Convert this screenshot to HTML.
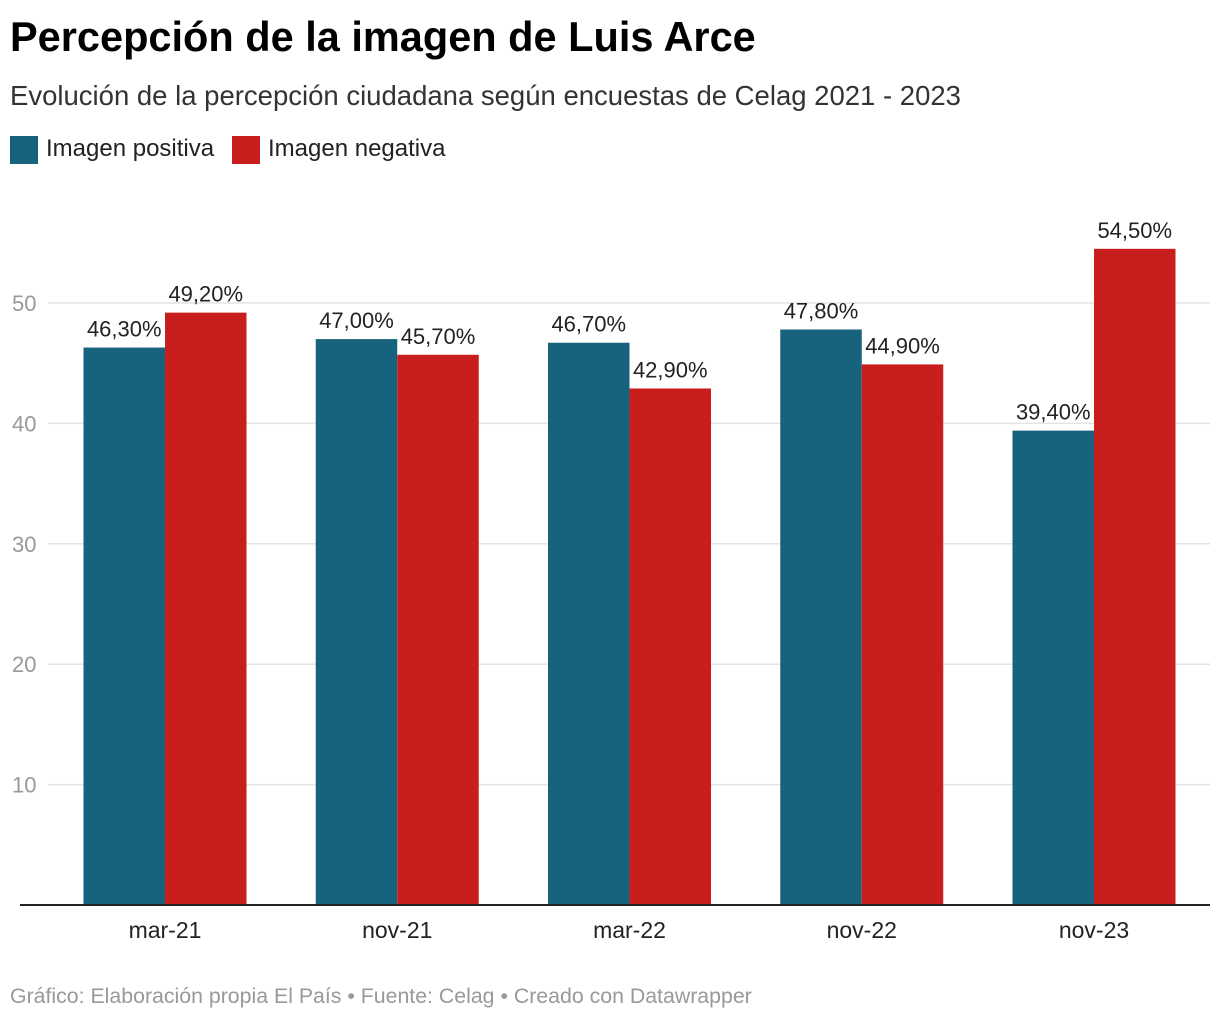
<!DOCTYPE html>
<html><head><meta charset="utf-8"><style>
body{margin:0;background:#fff;font-family:"Liberation Sans",Arial,sans-serif;}
#wrap{position:relative;width:1220px;height:1020px;overflow:hidden}
.t{position:absolute;white-space:nowrap}
</style></head><body><div id="wrap">
<div class="t" style="left:10px;top:13px;font-size:41.5px;font-weight:bold;color:#000">Percepción de la imagen de Luis Arce</div>
<div class="t" style="left:10px;top:80px;font-size:27.5px;color:#333">Evolución de la percepción ciudadana según encuestas de Celag 2021 - 2023</div>
<div class="t" style="left:10px;top:135px;font-size:24px;color:#222"><span style="display:inline-block;width:28px;height:28px;background:#17627c;vertical-align:middle;margin-right:8px"></span>Imagen positiva</div>
<div class="t" style="left:232px;top:135px;font-size:24px;color:#222"><span style="display:inline-block;width:28px;height:28px;background:#c91e1e;vertical-align:middle;margin-right:8px"></span>Imagen negativa</div>
<svg id="chart" width="1220" height="1020" style="position:absolute;left:0;top:0"></svg>
<div class="t" style="left:10px;top:984px;font-size:21.3px;color:#999">Gráfico: Elaboración propia El País • Fuente: Celag • Creado con Datawrapper</div>
</div>
<script>
const categories=["mar-21","nov-21","mar-22","nov-22","nov-23"];
const positive=[46.3,47.0,46.7,47.8,39.4];
const negative=[49.2,45.7,42.9,44.9,54.5];
const yTicks=[10,20,30,40,50];
const NS="http://www.w3.org/2000/svg";
const svg=document.getElementById('chart');
const y=v=>905-12.04*v;
const cx=i=>165+232.25*i;
const bw=81.5;
function mk(t,a){const e=document.createElementNS(NS,t);for(const k in a)e.setAttribute(k,a[k]);svg.appendChild(e);return e;}
yTicks.forEach(v=>{
 const l=mk('line',{x1:48,x2:1210,y1:y(v),y2:y(v),stroke:'#e3e3e3','stroke-width':1.5});
 
 
 const t=mk('text',{x:12,y:y(v)+8,'font-size':22,fill:'#999','font-family':'Liberation Sans, Arial, sans-serif'});
 t.textContent=v;
 
 
});
const fmt=v=>v.toFixed(2).replace('.',',')+'%';
categories.forEach((c,i)=>{
 [[positive[i],'#17627c',-bw,'bar-positive'],[negative[i],'#c91e1e',0,'bar-negative']].forEach(([v,col,off,nm])=>{
  const r=mk('rect',{x:cx(i)+off,y:y(v),width:bw,height:905-y(v),fill:col});
  
  
  const t=mk('text',{x:cx(i)+off+bw/2,y:y(v)-11,'font-size':22,fill:'#222','text-anchor':'middle','font-family':'Liberation Sans, Arial, sans-serif'});
  t.textContent=fmt(v);
  
  
 });
 const t=mk('text',{x:cx(i),y:938,'font-size':23,fill:'#222','text-anchor':'middle','font-family':'Liberation Sans, Arial, sans-serif'});
 t.textContent=c;
 
 
});
const ax=mk('line',{x1:20,x2:1210,y1:905,y2:905,stroke:'#222','stroke-width':2});


</script></body></html>
